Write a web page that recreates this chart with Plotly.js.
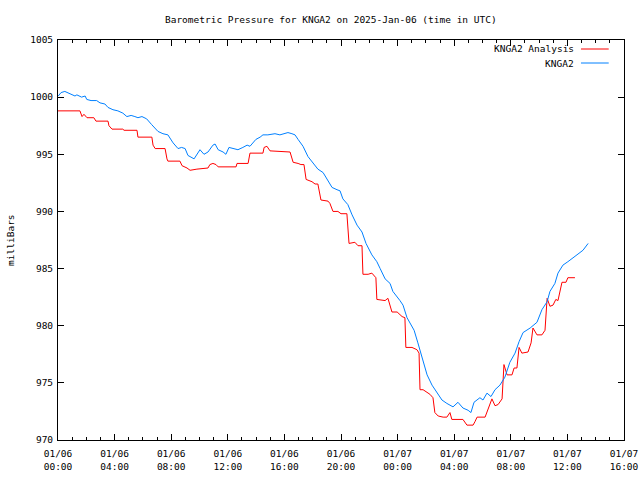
<!DOCTYPE html>
<html>
<head>
<meta charset="utf-8">
<script src="https://cdn.plot.ly/plotly-3.0.1.min.js"></script>
<style>html,body{margin:0;padding:0;background:#fff;}#chart{width:640px;height:480px;}</style>
</head>
<body>
<div id="chart"></div>
<script>
// Hours since 2025-01-06 00:00 UTC and pressure (mb)
const stationHours = [0.02,0.21,0.49,0.85,1.20,1.34,1.67,1.91,2.03,2.33,2.73,2.97,3.32,3.53,3.89,4.24,4.59,4.86,5.16,5.44,5.65,5.94,6.27,6.62,7.07,7.42,7.77,8.13,8.48,8.74,8.98,9.19,9.61,10.04,10.32,10.60,10.95,11.10,11.31,11.66,11.87,12.08,12.37,12.72,13.07,13.36,13.57,13.78,13.99,14.28,14.49,14.84,15.34,15.69,16.04,16.25,16.54,16.75,16.96,17.31,17.67,18.02,18.37,18.73,19.08,19.36,19.72,19.93,20.14,20.49,20.78,21.13,21.48,21.77,22.19,22.54,22.76,23.11,23.46,23.67,24.17,24.38,24.66,24.88,25.16,25.44,25.72,26.08,26.43,26.78,27.14,27.49,27.92,28.27,28.62,28.98,29.19,29.40,29.82,30.04,30.32,30.60,30.88,31.24,31.59,31.94,32.30,32.58,32.86,33.36,33.85,34.20,34.56,34.77,35.12,35.34,35.69,36.04,36.68,37.10,37.46];
const stationPressure = [1000.1,1000.4,1000.5,1000.3,1000.1,1000.2,1000.0,1000.1,999.8,999.7,999.7,999.5,999.4,999.1,998.9,998.8,998.6,998.3,998.4,998.3,998.2,998.3,998.1,997.6,997.0,996.8,996.7,996.0,995.5,995.6,995.5,994.9,994.6,995.4,995.0,995.2,995.8,995.9,995.4,995.2,995.0,995.6,995.5,995.4,995.6,995.8,995.7,996.0,996.3,996.5,996.7,996.7,996.8,996.7,996.8,996.9,996.8,996.7,996.3,995.7,994.8,994.2,993.7,993.4,992.7,992.1,991.9,991.8,991.1,990.6,989.7,988.8,988.2,987.2,986.2,985.6,985.0,984.1,983.7,983.0,982.2,981.8,980.7,980.2,979.6,978.5,977.2,975.7,974.8,974.1,973.5,973.2,972.9,973.3,972.8,972.6,972.4,973.3,973.7,973.5,974.1,973.8,974.4,974.8,975.5,976.8,977.6,978.6,979.4,979.8,980.3,981.4,982.1,983.0,983.7,984.6,985.3,985.6,986.2,986.6,987.2];

const analysisHours = [0,1.55,1.70,1.84,2.05,2.54,2.69,3.53,3.60,3.82,4.59,4.66,5.58,5.65,6.64,6.71,6.86,7.56,7.70,7.77,8.62,8.76,9.12,9.33,9.82,10.60,10.74,10.95,11.17,11.31,12.58,12.65,13.43,13.57,14.49,14.56,14.77,14.98,16.40,16.61,16.96,17.17,17.39,17.53,17.95,18.16,18.37,18.59,19.08,19.22,19.43,19.79,20.00,20.42,20.57,20.99,21.20,21.48,21.55,21.91,22.19,22.47,22.54,23.11,23.32,23.60,23.96,24.31,24.52,24.59,25.02,25.37,25.51,25.58,25.80,26.08,26.29,26.50,26.64,26.86,27.21,27.49,27.70,27.84,28.62,28.90,29.33,29.47,29.61,30.18,30.32,30.67,30.88,31.10,31.38,31.52,31.73,32.08,32.23,32.44,32.58,32.79,33.22,33.43,33.57,33.85,34.20,34.42,34.56,34.77,34.98,35.19,35.34,35.55,35.62,35.90,36.04,36.54];
const analysisPressure = [998.8,998.8,998.3,998.5,998.2,998.2,997.9,997.9,997.5,997.2,997.2,997.1,997.1,996.5,996.5,995.8,995.5,995.5,994.6,994.4,994.4,994.0,993.8,993.6,993.7,993.8,994.1,994.2,994.1,993.9,993.9,994.2,994.2,995.1,995.1,995.6,995.7,995.3,995.2,994.3,994.2,994.1,994.1,992.8,992.6,992.4,992.4,991.0,990.9,990.7,990.0,990.0,989.8,989.8,987.2,987.3,987.0,987.0,984.5,984.5,984.6,984.2,982.3,982.2,982.4,981.2,981.2,980.8,980.7,978.1,978.1,977.9,977.6,974.4,974.4,974.2,974.0,973.7,972.4,972.1,972.0,972.0,972.4,971.8,971.8,971.3,971.3,971.6,972.0,972.0,972.4,973.6,973.0,973.1,973.6,976.6,975.7,975.7,976.3,976.3,978.1,977.6,977.7,978.5,979.8,979.2,979.2,979.6,982.4,981.7,981.8,982.3,982.2,983.4,983.8,983.8,984.2,984.2];

const seriesNames = ['KNGA2 Analysis', 'KNGA2'];
const yTickVals = [970, 975, 980, 985, 990, 995, 1000, 1005];

const base = Date.UTC(2025, 0, 6, 0, 0, 0);
function toDate(h) {
  const d = new Date(base + Math.round(h * 60) * 60000);
  const p = n => String(n).padStart(2, '0');
  return d.getUTCFullYear() + '-' + p(d.getUTCMonth() + 1) + '-' + p(d.getUTCDate()) + ' ' + p(d.getUTCHours()) + ':' + p(d.getUTCMinutes());
}

const font = {family: 'DejaVu Sans Mono', size: 9.5, color: '#000'};
const red = '#ff0000', blue = '#0080ff';

const traces = [
  {x: analysisHours.map(toDate), y: analysisPressure, type: 'scatter', mode: 'lines', name: seriesNames[0], line: {color: red, width: 1}},
  {x: stationHours.map(toDate), y: stationPressure, type: 'scatter', mode: 'lines', name: seriesNames[1], line: {color: blue, width: 1}}
];

const layout = {
  width: 640, height: 480,
  margin: {l: 58, r: 16, t: 40, b: 40},
  paper_bgcolor: '#fff', plot_bgcolor: '#fff',
  font: font,
  showlegend: false,
  title: {text: 'Barometric Pressure for KNGA2 on 2025-Jan-06 (time in UTC)', font: font, x: 0.482, xref: 'paper', xanchor: 'center', y: 0.96, yanchor: 'middle'},
  xaxis: {
    type: 'date',
    range: ['2025-01-06 00:00', '2025-01-07 16:00'],
    tick0: '2025-01-06 00:00', dtick: 4 * 3600000,
    tickformat: '%m/%d<br>%H:%M',
    ticks: 'inside', ticklen: 6, tickcolor: '#000', tickwidth: 1,
    ticklabelstandoff: 5,
    minor: {dtick: 3600000, ticks: 'inside', ticklen: 3, tickcolor: '#000'},
    showline: true, linecolor: '#000', linewidth: 1, mirror: 'ticks',
    showgrid: false, zeroline: false, tickfont: font
  },
  yaxis: {
    range: [970, 1005],
    tickvals: yTickVals,
    ticks: 'inside', ticklen: 6, tickcolor: '#000', tickwidth: 1,
    ticklabelstandoff: 2,
    showline: true, linecolor: '#000', linewidth: 1, mirror: 'ticks',
    showgrid: false, zeroline: false, tickfont: font
  },
  annotations: [
    {text: 'milliBars', textangle: -90, xref: 'paper', yref: 'paper', x: -0.085, y: 0.5, showarrow: false, font: font, xanchor: 'center', yanchor: 'middle'},
    {text: seriesNames[0], xref: 'paper', yref: 'paper', x: 0.916, y: 0.9775, showarrow: false, font: font, xanchor: 'right', yanchor: 'middle'},
    {text: seriesNames[1], xref: 'paper', yref: 'paper', x: 0.916, y: 0.9425, showarrow: false, font: font, xanchor: 'right', yanchor: 'middle'}
  ],
  shapes: [
    {type: 'line', xref: 'paper', yref: 'paper', x0: 0.924, x1: 0.973, y0: 0.9775, y1: 0.9775, line: {color: red, width: 1}},
    {type: 'line', xref: 'paper', yref: 'paper', x0: 0.924, x1: 0.973, y0: 0.9425, y1: 0.9425, line: {color: blue, width: 1}}
  ]
};

Plotly.newPlot('chart', traces, layout, {displayModeBar: false, staticPlot: true});
</script>
</body>
</html>
